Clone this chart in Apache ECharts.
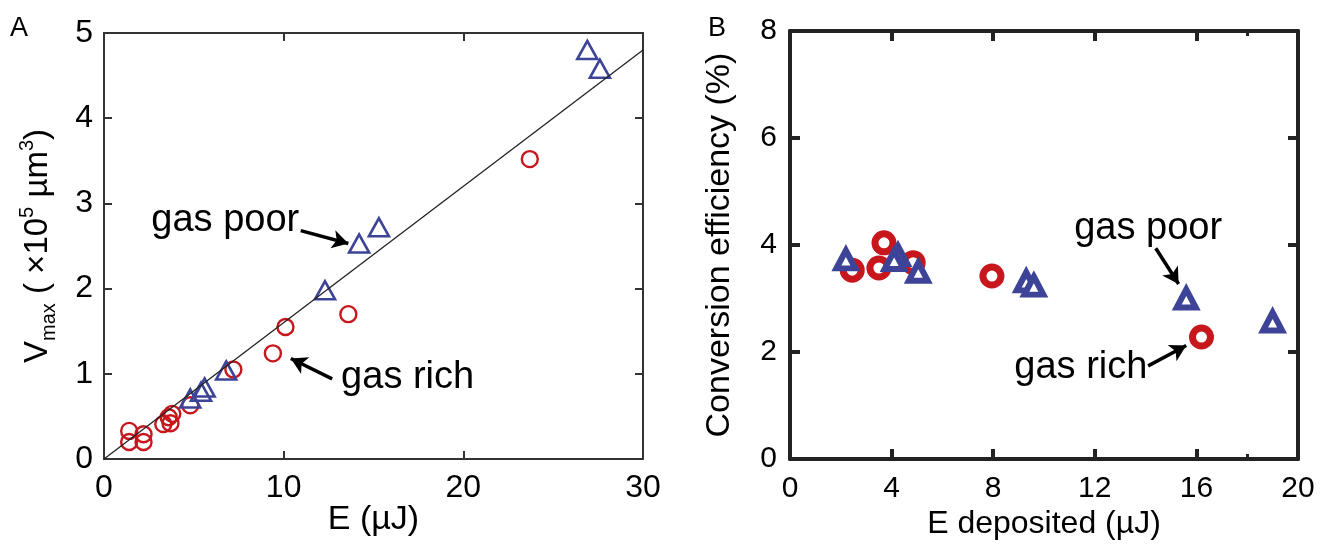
<!DOCTYPE html>
<html>
<head>
<meta charset="utf-8">
<script src="https://cdn.jsdelivr.net/npm/echarts@6/dist/echarts.min.js"></script>
<style>
  html, body { margin: 0; padding: 0; background: #fff; }
  #chart { width: 1344px; height: 546px; }
</style>
</head>
<body>
<div id="chart"></div>
<script>
// panel A: Vmax vs E
const aRichX = [1.4, 1.4, 2.2, 2.2, 3.3, 3.6, 3.8, 3.7, 4.8, 7.2, 9.4, 10.1, 13.6, 23.7];
const aRichY = [0.33, 0.20, 0.29, 0.20, 0.41, 0.49, 0.53, 0.42, 0.63, 1.05, 1.24, 1.55, 1.70, 3.52];
const aPoorX = [4.8, 5.4, 5.6, 6.8, 12.3, 14.2, 15.3, 26.9, 27.6];
const aPoorY = [0.71, 0.79, 0.84, 1.04, 1.98, 2.53, 2.72, 4.80, 4.58];
const aFitX = [0, 30];
const aFitY = [0, 4.8];

// panel B: conversion efficiency vs deposited energy
const bRichX = [2.45, 3.7, 3.5, 4.85, 7.95, 16.2];
const bRichY = [3.53, 4.04, 3.57, 3.67, 3.42, 2.28];
const bPoorX = [2.2, 4.25, 4.1, 5.05, 9.3, 9.6, 15.6, 19.0];
const bPoorY = [3.73, 3.81, 3.72, 3.50, 3.32, 3.24, 3.00, 2.57];

// text annotations [x, y, text]
const aNotes = [[6.75, 2.80, 'gas poor'], [16.9, 0.96, 'gas rich']];
const bNotes = [[14.1, 4.31, 'gas poor'], [11.45, 1.71, 'gas rich']];

const RED = '#c8161d';
const BLUE = '#3d4497';
const INK = '#000';
const FONT = 'Liberation Sans';

const zip = (xs, ys) => xs.map((x, i) => [x, ys[i]]);

const chart = echarts.init(document.getElementById('chart'));

const thinLine = { color: '#333', width: 2 };
const thickLine = { color: '#222', width: 4 };

function frameAxis(grid, pos, min, max, interval, thick, extra) {
  return Object.assign({
    gridIndex: grid, type: 'value', min: min, max: max, interval: interval, position: pos,
    axisLine: { onZero: false, lineStyle: thick ? thickLine : thinLine },
    axisTick: { inside: true, length: thick ? 10 : 8, lineStyle: thick ? thickLine : thinLine },
    axisLabel: { show: false },
    splitLine: { show: false }
  }, extra || {});
}

function arrowLine(from, to) {
  return [{ coord: from, symbol: 'none' }, { coord: to, symbol: 'arrow' }];
}

const tickLabel = (size, margin) => ({ show: true, fontSize: size, color: INK, margin: margin, fontFamily: FONT });
const titleStyle = (size) => ({ fontSize: size, color: INK, fontFamily: FONT, verticalAlign: 'middle' });

const option = {
  animation: false,
  textStyle: { fontFamily: FONT },
  graphic: [
    { type: 'text', left: 10, top: 15, style: { text: 'A', font: '27px Liberation Sans', fill: INK } },
    { type: 'text', left: 708, top: 15, style: { text: 'B', font: '27px Liberation Sans', fill: INK } }
  ],
  grid: [
    { left: 104, top: 33, width: 539, height: 426 },
    { left: 790, top: 31, width: 508, height: 428 }
  ],
  xAxis: [
    frameAxis(0, 'bottom', 0, 30, 10, false, {
      name: 'E (µJ)', nameLocation: 'middle', nameGap: 61, nameMoveOverlap: false,
      nameTextStyle: titleStyle(34),
      axisLabel: tickLabel(32, 13)
    }),
    frameAxis(0, 'top', 0, 30, 10, false),
    frameAxis(1, 'bottom', 0, 20, 4, true, {
      name: 'E deposited (µJ)', nameLocation: 'middle', nameGap: 65, nameMoveOverlap: false,
      nameTextStyle: titleStyle(32),
      axisLabel: tickLabel(30, 15)
    }),
    frameAxis(1, 'top', 0, 20, 4, true),
    {
      gridIndex: 1, type: 'value', min: 0, max: 20, position: 'bottom',
      axisLine: { show: false, onZero: false },
      axisTick: { inside: true, length: 5, customValues: [18], lineStyle: { color: '#222', width: 3 } },
      axisLabel: { show: false }, splitLine: { show: false }
    },
    {
      gridIndex: 1, type: 'value', min: 0, max: 20, position: 'top',
      axisLine: { show: false, onZero: false },
      axisTick: { inside: true, length: 5, customValues: [18], lineStyle: { color: '#222', width: 3 } },
      axisLabel: { show: false }, splitLine: { show: false }
    }
  ],
  yAxis: [
    frameAxis(0, 'left', 0, 5, 1, false, {
      name: '{t|V}{sub|max}{t| ( ×10}{sup|5}{t| µm}{sup|3}{t|)}',
      nameLocation: 'middle', nameGap: 66, nameRotate: 90, nameMoveOverlap: false,
      nameTextStyle: {
        color: INK, fontFamily: FONT, verticalAlign: 'middle',
        rich: {
          t: { fontSize: 33, lineHeight: 42, color: INK, fontFamily: FONT },
          sub: { fontSize: 20, verticalAlign: 'bottom', lineHeight: 42, color: INK, fontFamily: FONT },
          sup: { fontSize: 20, verticalAlign: 'top', lineHeight: 42, color: INK, fontFamily: FONT }
        }
      },
      axisLabel: tickLabel(32, 11)
    }),
    frameAxis(0, 'right', 0, 5, 1, false),
    frameAxis(1, 'left', 0, 8, 2, true, {
      name: 'Conversion efficiency (%)', nameLocation: 'middle', nameGap: 70, nameRotate: 90,
      nameMoveOverlap: false,
      nameTextStyle: titleStyle(34),
      axisLabel: tickLabel(30, 13)
    }),
    frameAxis(1, 'right', 0, 8, 2, true)
  ],
  series: [
    {
      name: 'fit', type: 'line', xAxisIndex: 0, yAxisIndex: 0,
      data: zip(aFitX, aFitY), symbol: 'none',
      lineStyle: { color: '#222', width: 1.3 },
      markLine: {
        silent: true, symbolSize: [14, 16],
        label: { show: false },
        lineStyle: { color: INK, width: 3.5, type: 'solid' },
        data: [
          arrowLine([10.95, 2.68], [13.6, 2.53]),
          arrowLine([12.7, 0.94], [10.4, 1.18])
        ]
      }
    },
    {
      name: 'gas rich A', type: 'scatter', xAxisIndex: 0, yAxisIndex: 0,
      data: zip(aRichX, aRichY), symbol: 'circle', symbolSize: 16,
      itemStyle: { color: 'rgba(255,255,255,0)', borderColor: RED, borderWidth: 2.4, opacity: 1 }
    },
    {
      name: 'gas poor A', type: 'scatter', xAxisIndex: 0, yAxisIndex: 0,
      data: zip(aPoorX, aPoorY), symbol: 'triangle', symbolSize: [20, 18],
      itemStyle: { color: 'rgba(255,255,255,0)', borderColor: BLUE, borderWidth: 2.6, opacity: 1 }
    },
    {
      name: 'labels A', type: 'scatter', xAxisIndex: 0, yAxisIndex: 0,
      data: aNotes, symbolSize: 1, silent: true,
      itemStyle: { color: 'rgba(0,0,0,0)', opacity: 1 },
      label: { show: true, position: 'inside', formatter: p => p.data[2], fontSize: 38, color: INK, fontFamily: FONT }
    },
    {
      name: 'gas rich B', type: 'scatter', xAxisIndex: 2, yAxisIndex: 2,
      data: zip(bRichX, bRichY), symbol: 'circle', symbolSize: 18,
      itemStyle: { color: '#fff', borderColor: RED, borderWidth: 7, opacity: 1 },
      markLine: {
        silent: true, symbolSize: [14, 16],
        label: { show: false },
        lineStyle: { color: INK, width: 3.5, type: 'solid' },
        data: [
          arrowLine([14.4, 3.94], [15.3, 3.27]),
          arrowLine([14.1, 1.74], [15.6, 2.12])
        ]
      }
    },
    {
      name: 'gas poor B', type: 'scatter', xAxisIndex: 2, yAxisIndex: 2,
      data: zip(bPoorX, bPoorY), symbol: 'triangle', symbolSize: [19, 18],
      itemStyle: { color: '#fff', borderColor: BLUE, borderWidth: 6, opacity: 1 }
    },
    {
      name: 'labels B', type: 'scatter', xAxisIndex: 2, yAxisIndex: 2,
      data: bNotes, symbolSize: 1, silent: true,
      itemStyle: { color: 'rgba(0,0,0,0)', opacity: 1 },
      label: { show: true, position: 'inside', formatter: p => p.data[2], fontSize: 38, color: INK, fontFamily: FONT }
    }
  ]
};

chart.setOption(option);
</script>
</body>
</html>
